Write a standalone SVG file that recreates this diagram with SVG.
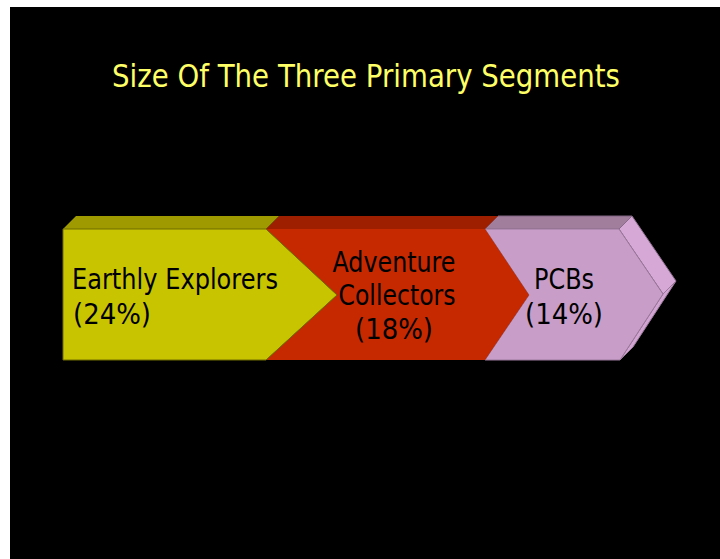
<svg xmlns="http://www.w3.org/2000/svg" width="720" height="559" viewBox="0 0 720 559">
  <style>
    .lbl { font-family: "DejaVu Sans", "Liberation Sans", sans-serif; font-size: 28px; fill: #000; }
    .title { font-family: "DejaVu Sans", "Liberation Sans", sans-serif; font-size: 32px; fill: #FFFF66; }
    .edge { stroke-width: 1; stroke-linejoin: round; }
  </style>
  <rect x="0" y="0" width="720" height="559" fill="#ffffff"/>
  <rect x="10" y="7" width="710" height="552" fill="#000000"/>

  <text class="title" x="366" y="87" text-anchor="middle" textLength="508" lengthAdjust="spacingAndGlyphs">Size Of The Three Primary Segments</text>

  <!-- third segment (drawn first, sits behind on the left) -->
  <g id="pcbs">
    <polygon points="485,229 498,216 632,216 619,229" fill="#A07E9C" class="edge" stroke="#7e6280"/>
    <polygon points="619,229 632,216 676,281 663,294" fill="#D6A8D6" class="edge" stroke="#8a6a8a"/>
    <polygon points="663,294 676,281 633,347 620,360" fill="#D2A4D2" class="edge" stroke="#9a789a"/>
    <polygon points="485,229 619,229 663,294 620,360 485,360 529,295" fill="#C89EC8" class="edge" stroke="#9a789a"/>
    <text class="lbl" x="564" y="289" text-anchor="middle" textLength="60" lengthAdjust="spacingAndGlyphs">PCBs</text>
    <text class="lbl" x="564" y="324" text-anchor="middle" textLength="78" lengthAdjust="spacingAndGlyphs">(14%)</text>
  </g>

  <!-- second segment -->
  <g id="adventure-collectors">
    <polygon points="266,229 279,216 498,216 485,229" fill="#9E1E00"/>
    <polygon points="266,229 485,229 529,295 485,360 266,360 337,295" fill="#C62800"/>
    <text class="lbl" x="394" y="272" text-anchor="middle" textLength="123" lengthAdjust="spacingAndGlyphs">Adventure</text>
    <text class="lbl" x="397" y="305" text-anchor="middle" textLength="117" lengthAdjust="spacingAndGlyphs">Collectors</text>
    <text class="lbl" x="394" y="339" text-anchor="middle" textLength="78" lengthAdjust="spacingAndGlyphs">(18%)</text>
  </g>

  <!-- first segment -->
  <g id="earthly-explorers">
    <polygon points="63,229 76,216 279,216 266,229" fill="#9E9A00"/>
    <polygon points="63,229 266,229 337,295 266,360 63,360" fill="#C8C400" class="edge" stroke="#6e6c00"/>
    <text class="lbl" x="72" y="289" textLength="206" lengthAdjust="spacingAndGlyphs">Earthly Explorers</text>
    <text class="lbl" x="73" y="324" textLength="78" lengthAdjust="spacingAndGlyphs">(24%)</text>
  </g>
</svg>
